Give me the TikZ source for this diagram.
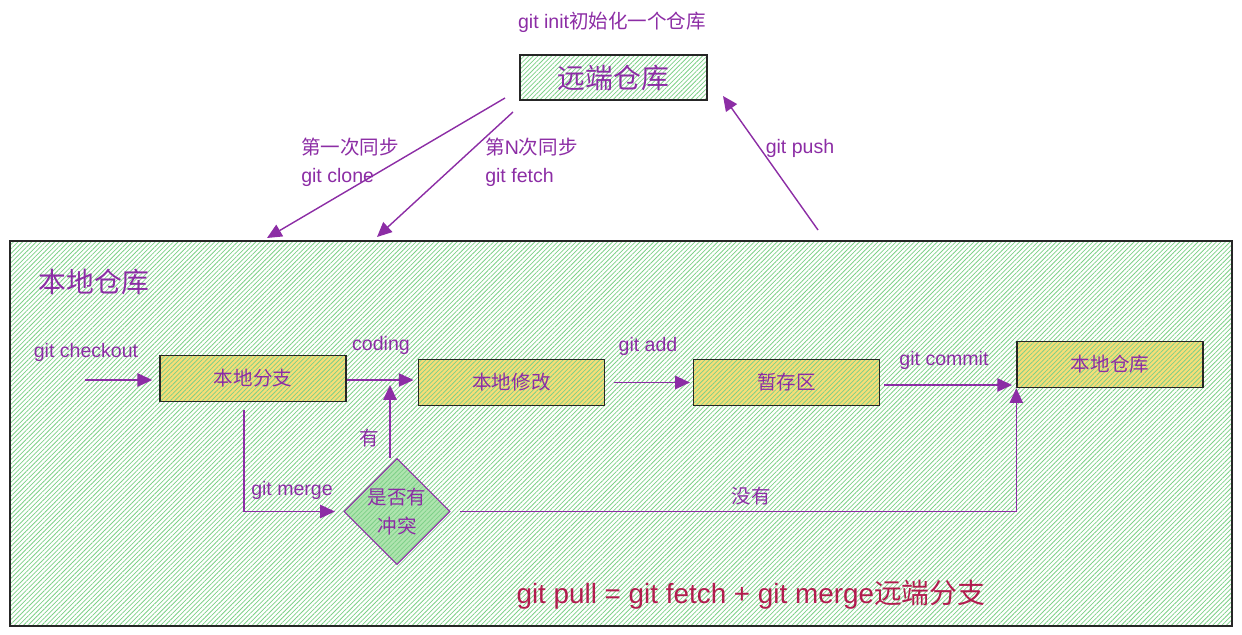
\documentclass[tikz,border=0pt]{standalone}
\usepackage{fontspec}
\setmainfont{Liberation Sans}
\newfontfamily\cjk{Noto Sans CJK SC}
\usetikzlibrary{arrows.meta, patterns.meta, shapes.geometric, calc}
\definecolor{gitpurple}{RGB}{140,45,165}
\definecolor{hatchgreen}{RGB}{125,208,135}
\definecolor{boxyellow}{RGB}{246,222,120}
\definecolor{diagreen}{RGB}{175,228,175}
\definecolor{pullred}{RGB}{178,28,78}

\begin{document}
\begin{tikzpicture}[x=0.025cm, y=-0.025cm,
  hatch/.style={pattern={Lines[angle=45, distance=2.3pt, line width=0.55pt]}, pattern color=hatchgreen},
  area/.style={draw=black!85, line width=1pt, hatch, inner sep=0pt},
  stepbox/.style={draw=black!85, line width=1pt, preaction={fill=boxyellow}, hatch, minimum width=4.65cm, minimum height=1.15cm, inner sep=0pt, font=\fontsize{13.9}{16}\selectfont\cjk, text=gitpurple},
  decision/.style={diamond, draw=gitpurple, line width=0.8pt, preaction={fill=diagreen}, hatch, minimum width=2.55cm, minimum height=2.58cm, inner sep=0pt, align=center, font=\fontsize{13.9}{21}\selectfont\cjk, text=gitpurple},
  lbl/.style={text=gitpurple, font=\fontsize{13.9}{19.9}\selectfont, inner sep=0pt},
  biglbl/.style={text=gitpurple, font=\fontsize{19.8}{22}\selectfont\cjk, inner sep=0pt},
  flow/.style={-{Triangle[length=10.5pt, width=9.5pt]}, line width=1pt, draw=gitpurple, color=gitpurple}
]
\useasboundingbox (0,0) rectangle (1242,635);

% local repository area
\node[area, minimum width=30.55cm, minimum height=9.625cm] (localrepo) at (621,433.5) {};
\node[biglbl] (locallbl) at (94,282) {本地仓库};

% remote repository
\node[lbl] (initlbl) at (612,22) {git init{\cjk 初始化一个仓库}};
\node[area, minimum width=4.675cm, minimum height=1.125cm, font=\fontsize{19.8}{22}\selectfont\cjk, text=gitpurple] (remote) at (613.5,77.5) {远端仓库};

% working steps
\node[stepbox] (branch) at (253,378.5) {本地分支\hspace{1cm}};
\node[stepbox] (edit) at (511.5,382.5) {本地修改\hspace{1cm}};
\node[stepbox] (stage) at (786.5,382.5) {暂存区\hspace{0.35cm}};
\node[stepbox] (local) at (1110,364.5) {本地仓库\hspace{1cm}};
\node[decision] (conflict) at (397,511.5) {是否有\\冲突};

% free ends
\coordinate (checkin) at (85,380);
\coordinate (clonefrom) at (505,98);
\coordinate (cloneto) at (267,238);
\coordinate (fetchfrom) at (513,112);
\coordinate (fetchto) at (377,237);
\coordinate (pushfrom) at (818,230);
\coordinate (pushto) at (723,96);
\coordinate (yesto) at (390,385);
\coordinate (mergefrom) at (244,410);

% sync with remote
\draw[flow] (clonefrom) -- (cloneto);
\draw[flow] (fetchfrom) -- (fetchto);
\draw[flow] (pushfrom) -- (pushto);
\node[lbl, anchor=west, align=left] (clonelbl) at (301,162) {{\cjk 第一次同步}\\git clone};
\node[lbl, anchor=west, align=left] (fetchlbl) at (485,162) {{\cjk 第}N{\cjk 次同步}\\git fetch};
\node[lbl] (pushlbl) at (800,148) {git push};

% local flow
\draw[flow, shorten >=5pt] (checkin) -- (branch.west |- checkin);
\draw[flow, shorten >=3pt] (branch.east |- checkin) -- (edit.west |- checkin);
\draw[flow, shorten <=6pt, shorten >=2pt] (edit.east) -- (stage.west);
\draw[flow, shorten <=3pt, shorten >=3pt] (stage.east |- yesto) -- (local.west |- yesto);
\draw[flow] (conflict.north -| yesto) -- (yesto);
\draw[flow, shorten >=6pt] (mergefrom) |- (conflict.west);
\draw[flow, shorten <=7pt] (conflict.east) -| (local.south west);

\node[lbl] (checklbl) at (86,352) {git checkout};
\node[lbl] (codelbl) at (381,345) {coding};
\node[lbl] (addlbl) at (648,346) {git add};
\node[lbl] (commitlbl) at (944,360) {git commit};
\node[lbl, font=\fontsize{13.9}{16}\selectfont\cjk] (yeslbl) at (369,438) {有};
\node[lbl, font=\fontsize{13.9}{16}\selectfont\cjk] (nolbl) at (751,496) {没有};
\node[lbl] (mergelbl) at (292,490) {git merge};

\node[text=pullred, font=\fontsize{19.8}{22}\selectfont, inner sep=0pt] (pulllbl) at (751,595) {git pull = git fetch + git merge{\cjk 远端分支}};
\end{tikzpicture}
\end{document}
